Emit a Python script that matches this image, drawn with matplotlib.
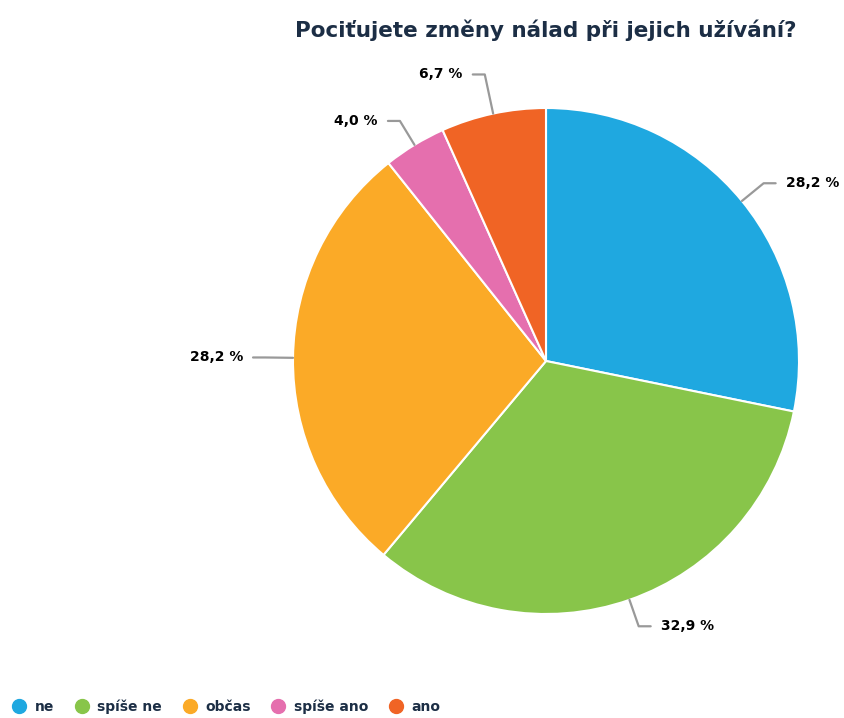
import matplotlib.pyplot as plt
import numpy as np
from matplotlib.lines import Line2D

title = "Pociťujete změny nálad při jejich užívání?"
categories = ["ne", "spíše ne", "občas", "spíše ano", "ano"]
values = [28.2, 32.9, 28.2, 4.0, 6.7]
colors = ["#1fa8e0", "#88c54a", "#fbaa27", "#e56fae", "#f06425"]
navy = "#1c2e45"

W, H = 845, 718
fig = plt.figure(figsize=(W / 100, H / 100), dpi=100)
ax = fig.add_axes([0, 0, 1, 1])

cx, cy, r = 546, H - 361, 253
wedges, _ = ax.pie(values, colors=colors, startangle=90, counterclock=False,
                   center=(cx, cy), radius=r, frame=True,
                   wedgeprops=dict(edgecolor="white", linewidth=1.5))
ax.set_xlim(0, W)
ax.set_ylim(0, H)
ax.axis("off")

# data labels with bent connector lines
for w, v in zip(wedges, values):
    ang = np.deg2rad((w.theta1 + w.theta2) / 2)
    dx, dy = np.cos(ang), np.sin(ang)
    x0, y0 = cx + r * dx, cy + r * dy
    out = 28 if dy < 0.9 else 40
    x1, y1 = cx + (r + out) * dx, cy + (r + out) * dy
    side = 1 if dx >= 0 else -1
    x2 = x1 + 12 * side
    ax.plot([x0, x1, x2], [y0, y1, y1], color="#999999", lw=1.6,
            solid_joinstyle="round", solid_capstyle="round")
    ax.text(x2 + 10 * side, y1, f"{v:.1f} %".replace(".", ","),
            ha="left" if side > 0 else "right", va="center",
            fontsize=10, fontweight="bold", color="black")

ax.text(cx, H - 30, title, ha="center", va="center", fontsize=15.5,
        fontweight="bold", color=navy)

handles = [Line2D([], [], marker="o", linestyle="", markersize=10,
                  markerfacecolor=c, markeredgecolor=c) for c in colors]
leg = fig.legend(handles, categories, loc="lower left", ncol=5,
                 bbox_to_anchor=(0.0, -0.012), frameon=False,
                 handletextpad=0.6, columnspacing=1.5, handlelength=1.0,
                 prop=dict(size=10, weight="bold"))
for t in leg.get_texts():
    t.set_color(navy)

fig.savefig("out.png", dpi=100)
